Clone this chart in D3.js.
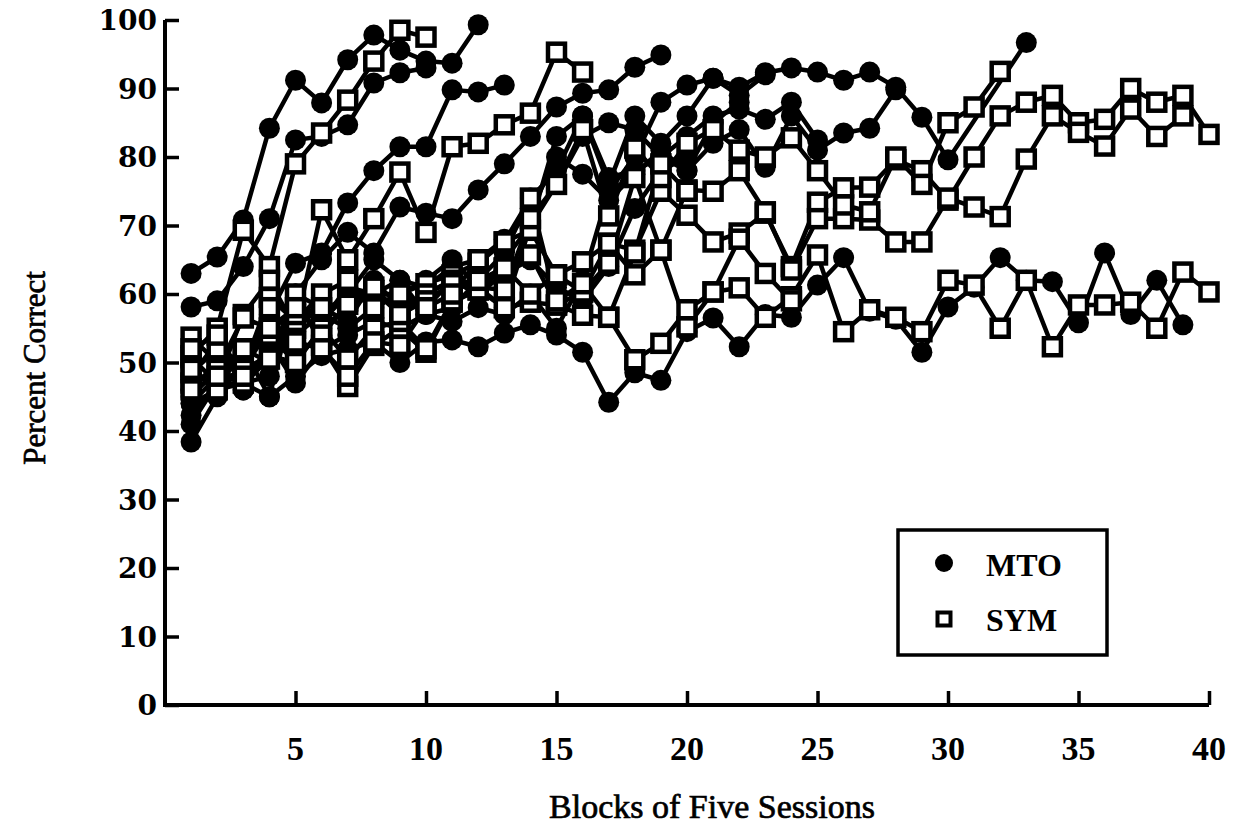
<!DOCTYPE html>
<html>
<head>
<meta charset="utf-8">
<script src="https://cdn.jsdelivr.net/npm/d3@7"></script>
<style>
  html, body { margin: 0; padding: 0; background: #fff; }
  svg { display: block; }
</style>
</head>
<body>
<svg id="chart" width="1242" height="833"></svg>
<script>
// ---- data (blocks start at 1; null = no visible point) ----
const xTicks = [5, 10, 15, 20, 25, 30, 35, 40];
const yTicks = [0, 10, 20, 30, 40, 50, 60, 70, 80, 90, 100];
const legendLabels = ["MTO", "SYM"];
const xTitle = "Blocks of Five Sessions";
const yTitle = "Percent Correct";

// MTO subjects (filled circles)
const mto1 = [63, 65.4, 70.8, 84.2, 91.2, 87.9, 94.2, 97.8, 95.6, 94, 93.7, 99.3];
const mto2 = [58.1, 59, 64, 71, 82.5, 83, 84.7, 90.8, 92.3, 93];
const mto3 = [38.4, 45, 50, 57, 64.5, 66, 73.3, 78, 81.5, 81.5, 89.8, 89.5, 90.5];
const mto4 = [42.3, 47, 52, 45, 60, 65, 69, 66, 72.7, 71.8, 71, 75.2, 79, 83, 87.3, 89.3, 89.8, 93.1, 94.9];
const mto5 = [44, 48, 46, 53, 47, 52, 54, 56, 55, 57, 56, 58, 57, 60, 55, 62, 75, 80, 88, 90.5, 91.5, 90.2, 92.3, 93, 92.4, 91.2, 92.4, 90.2, 85.8, 79.6, null, null, 96.7];
const mto6 = [46, 50, 49, 55, 58, 56, 61, 60, 60, 62, 65, 61, 58, 70, 83, 86, 77, 78, 80, 78, 82, 84, 78.5, 86, 81, 83.5, 84.2, 89.8];
const mto7 = [44, 46, 47, 45, 48, 51, 52, 53, 50, 53, 53.3, 52.3, 54.3, 55.5, 54, 51.5, 44.2, 48.5, 47.4, 54.5, 56.5, 52.3, 57, 56.6, 61.3, 65.3, 57.5, 56.3, 51.5, 58.1, 61, 65.3, 62, 61.8, 55.8, 66, 57, 62, 55.5];
const mto8 = [41, 47, 49, 51, 50, 55, 58, 60, 62, 61, 64, 65, 68, 72, 80, 77.5, 73.7, 77.5, 81, 78, 85, 88];
const mto9 = [46, 50, 46, 52, 58, 56, 60, 65, 62, 57, 58, 62, 66, 74, 78, 86, 76, 86, 82, 86, 91.5, 89, 92];
const mto10 = [48, 53, 47, 48, 60, 58, 56, 62, 58, 60, 62, 60, 63, 65, 61, 59, 64, 72.5, 78, 80];
const mto11 = [45, 49, 52, 50, 54, 57, 55, 58, 60, 58, 62, 60, 65, 70, 76, 83, 85, 84, 80, 83, 86, 87, 85.5, 88, 82.5];

// SYM subjects (open squares)
const sym1 = [51, 55, 69.3, 64, 79, 83.5, 88.3, 94, 98.5, 97.5];
const sym2 = [50.7, 47, 57, 62, 55, 72.3, 65, 71, 77.8, 69, 81.5, 82, 84.7, 86.4, 95.3, 92.4];
const sym3 = [53.7, 50, 49, 59.5, 56, 60, 62, 58, 60, 61.5, 62.8, 64.5, 67.6, 69.3, 62.8, 64.7, 67.4, 66.4, 75, 71.5, 67.6, 68.9, 71.8, 64, 73.4, 75.5, 75.6, 79.6, 78, 73.7, 80, 86, 88, 89, 85, 85.5, 90, 88, 89, 83.3];
const sym4 = [48.5, 52, 47, 50.5, 60, 52.5, 46.5, 52.5, 55, 51.5, 58.8, 60.6, 63.8, 65.7, 58.4, 60.3, 64.5, 77, 66.4, 75.2, 75, 78, 72, 63.5, 71, 71, 70.8, 67.6, 67.6, 74, 72.7, 71.3, 79.7, 86, 83.6, 81.6, 87, 83, 86];
const sym5 = [47, 49, 56.5, 55, 57, 58, 59, 60.5, 57, 60, 62, 61, 60.6, 71, 76, 84, 71.4, 81.3, 77, 82, 84, 81, 80, 82.8, 78, 73, 72, 80, 76, 85, 87.3, 92.5];
const sym6 = [49, 46, 52, 54, 50, 55, 50.5, 55, 56, 52, 59, 60.6, 58, 58.8, 58.4, 56.9, 56.6, 50.4, 52.8, 57.7, 60.3, 60.9, 56.6, 59.6, 65.7, 54.5, 57.7, 56.6, 54.5, 62, 61.3, 55, 62, 52.3, 58.4, 58.4, 58.8, 55, 63.2, 60.3];
const sym7 = [52, 54, 48, 58, 58, 54, 58.5, 61, 57, 59, 61.5, 62, 63.8, 60, 62.8, 60.3, 67.4, 62.8, 66.4, 55.2, 60.3, 68, 63, 59];
const sym8 = [46, 48, 52, 55, 53, 52, 48, 53, 52.5, 58, 60, 65, 67.6, 74, 59, 61.5, 56.6, 66, 79, 75];

const mtoSeries = [mto1, mto2, mto3, mto4, mto5, mto6, mto7, mto8, mto9, mto10, mto11];
const symSeries = [sym1, sym2, sym3, sym4, sym5, sym6, sym7, sym8];

// ---- drawing ----
const svg = d3.select("#chart");
const x = d3.scaleLinear().domain([0, 40]).range([165, 1209]);
const y = d3.scaleLinear().domain([0, 100]).range([705, 20]);

const toPts = arr => arr.map((v, i) => ({ b: i + 1, v })).filter(d => d.v !== null);
const line = d3.line().x(d => x(d.b)).y(d => y(d.v));

const plot = svg.append("g");
const allSeries = [
  ...mtoSeries.map(s => ({ type: "MTO", pts: toPts(s) })),
  ...symSeries.map(s => ({ type: "SYM", pts: toPts(s) }))
];

plot.selectAll("path.series").data(allSeries).join("path")
  .attr("class", "series")
  .attr("d", d => line(d.pts))
  .attr("fill", "none").attr("stroke", "#000")
  .attr("stroke-width", 4.5).attr("stroke-linejoin", "round");

const mtoPts = allSeries.filter(s => s.type === "MTO").flatMap(s => s.pts);
const symPts = allSeries.filter(s => s.type === "SYM").flatMap(s => s.pts);

plot.selectAll("circle.mto").data(mtoPts).join("circle")
  .attr("class", "mto")
  .attr("cx", d => x(d.b)).attr("cy", d => y(d.v)).attr("r", 10.5)
  .attr("fill", "#000");

plot.selectAll("rect.sym").data(symPts).join("rect")
  .attr("class", "sym")
  .attr("x", d => x(d.b) - 8.5).attr("y", d => y(d.v) - 8.5)
  .attr("width", 17).attr("height", 17)
  .attr("fill", "#fff").attr("stroke", "#000").attr("stroke-width", 4.5);

// axes
const yAxis = d3.axisRight(y).tickValues(yTicks).tickSize(14).tickFormat("");
svg.append("g").attr("transform", `translate(${x(0)},0)`).call(yAxis)
  .call(g => g.select(".domain").remove())
  .call(g => g.selectAll("line").attr("stroke", "#000").attr("stroke-width", 3.5));

const xAxis = d3.axisTop(x).tickValues(xTicks).tickSize(14).tickFormat("");
svg.append("g").attr("transform", `translate(0,${y(0)})`).call(xAxis)
  .call(g => g.select(".domain").remove())
  .call(g => g.selectAll("line").attr("stroke", "#000").attr("stroke-width", 3.5));

svg.append("path")
  .attr("d", `M${x(0)},${y(100)} L${x(0)},${y(0)} L${x(40)},${y(0)}`)
  .attr("fill", "none").attr("stroke", "#000").attr("stroke-width", 4);

svg.append("g").selectAll("text").data(yTicks).join("text")
  .attr("x", 157).attr("y", d => y(d)).attr("dy", "0.36em")
  .attr("text-anchor", "end")
  .attr("font-family", "DejaVu Serif").attr("font-weight", "bold").attr("font-size", 28)
  .attr("fill", "#000").text(d => d);

svg.append("g").selectAll("text").data(xTicks).join("text")
  .attr("x", d => x(d)).attr("y", 760)
  .attr("text-anchor", "middle")
  .attr("font-family", "Liberation Serif").attr("font-weight", "bold").attr("font-size", 34)
  .attr("fill", "#000").text(d => d);

svg.append("text").attr("x", 712).attr("y", 818).attr("text-anchor", "middle")
  .attr("font-family", "Liberation Serif").attr("font-size", 34)
  .attr("fill", "#000").attr("stroke", "#000").attr("stroke-width", 0.7)
  .text(xTitle);

svg.append("text").attr("transform", "translate(45,368) rotate(-90)")
  .attr("text-anchor", "middle")
  .attr("font-family", "Liberation Serif").attr("font-size", 31)
  .attr("fill", "#000").attr("stroke", "#000").attr("stroke-width", 0.7)
  .text(yTitle);

// legend
const lg = svg.append("g");
lg.append("rect").attr("x", 898).attr("y", 530).attr("width", 209).attr("height", 125)
  .attr("fill", "#fff").attr("stroke", "#000").attr("stroke-width", 3.5);
lg.append("circle").attr("cx", 944).attr("cy", 563).attr("r", 9).attr("fill", "#000");
lg.append("rect").attr("x", 937.5).attr("y", 612.5).attr("width", 13).attr("height", 13)
  .attr("fill", "#fff").attr("stroke", "#000").attr("stroke-width", 4);
lg.selectAll("text.lab").data(legendLabels).join("text")
  .attr("class", "lab")
  .attr("x", 986).attr("y", (d, i) => 576 + i * 55)
  .attr("font-family", "Liberation Serif").attr("font-weight", "bold").attr("font-size", 32)
  .attr("fill", "#000").text(d => d);
</script>
</body>
</html>
